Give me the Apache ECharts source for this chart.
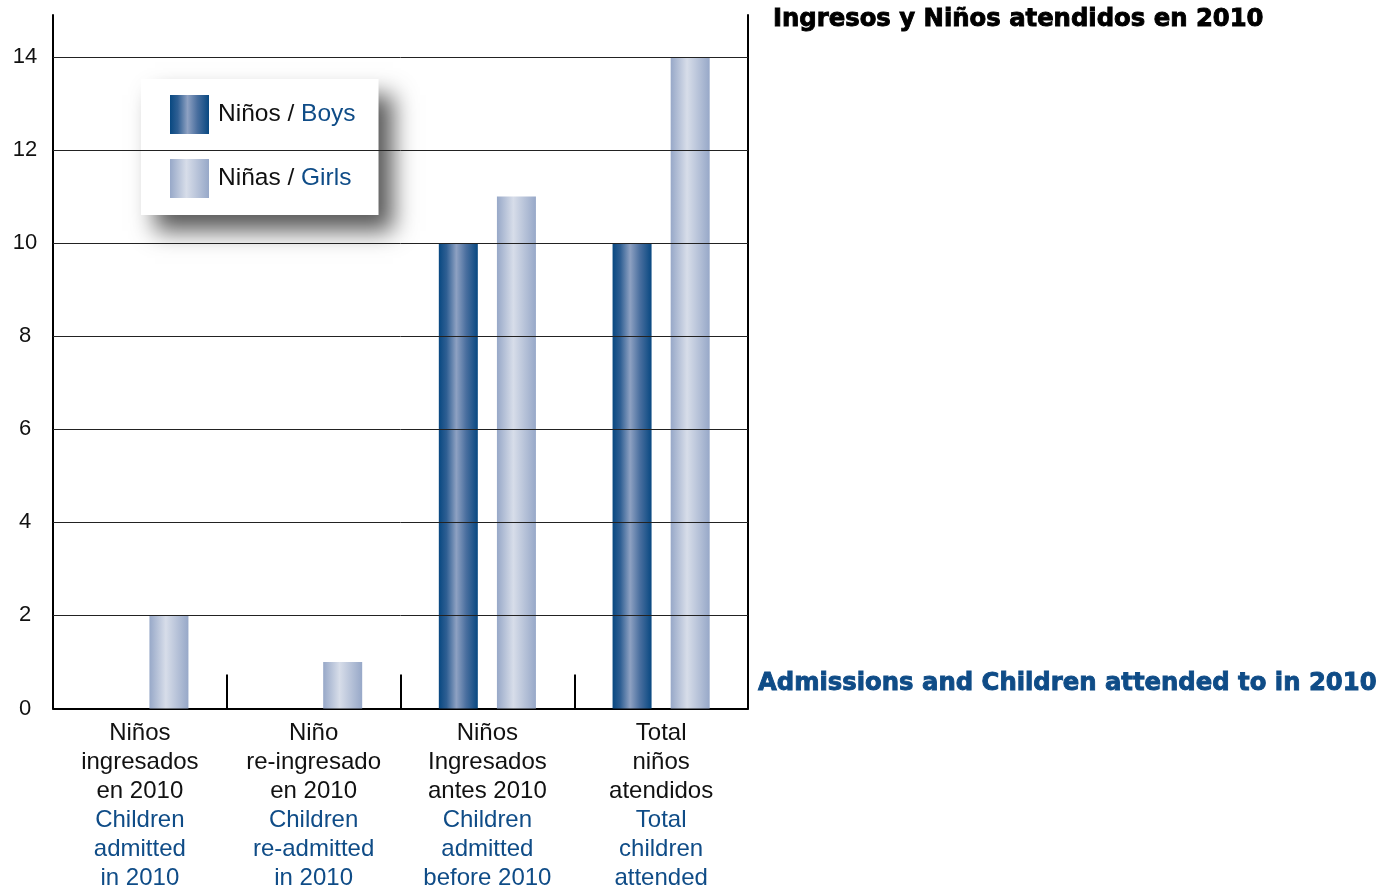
<!DOCTYPE html>
<html>
<head>
<meta charset="utf-8">
<script src="https://cdn.jsdelivr.net/npm/echarts@6/dist/echarts.min.js"></script>
<style>
  html, body { margin: 0; padding: 0; background: #ffffff; }
  #chart { width: 1396px; height: 890px; }
</style>
</head>
<body>
<div id="chart"></div>
<script>
// Category labels: Spanish lines (black) and English lines (blue)
const categoriesEs = [
  ['Niños', 'ingresados', 'en 2010'],
  ['Niño', 're-ingresado', 'en 2010'],
  ['Niños', 'Ingresados', 'antes 2010'],
  ['Total', 'niños', 'atendidos']
];
const categoriesEn = [
  ['Children', 'admitted', 'in 2010'],
  ['Children', 're-admitted', 'in 2010'],
  ['Children', 'admitted', 'before 2010'],
  ['Total', 'children', 'attended']
];
const categoryKeys = ['c0', 'c1', 'c2', 'c3'];

// Series values
const boys = [0, 0, 10, 10];
const girls = [2, 1, 11, 14];

// Legend names
const seriesNames = ['Niños / Boys', 'Niñas / Girls'];

// Value axis ticks and grid lines
const yTicks = [0, 2, 4, 6, 8, 10, 12, 14];
const gridValues = [2, 4, 6, 8, 10, 12, 14];

const BLUE_TEXT = '#0f4c87';
const FONT = '"Liberation Sans", Arial, Helvetica, sans-serif';
const HEAVY = '"DejaVu Sans", sans-serif';

function hGrad(stops) {
  return {
    type: 'linear', x: 0, y: 0, x2: 1, y2: 0,
    colorStops: stops.map(s => ({ offset: s[0], color: s[1] }))
  };
}
const boysColor = hGrad([[0, '#084881'], [0.2, '#2f5f93'], [0.45, '#8ea1c2'], [0.7, '#4a6f9f'], [1, '#084881']]);
const girlsColor = hGrad([[0, '#97a8c8'], [0.42, '#d7dde9'], [1, '#97a8c8']]);

const chart = echarts.init(document.getElementById('chart'), null, { renderer: 'canvas' });

const option = {
  animation: false,
  backgroundColor: '#ffffff',
  textStyle: { fontFamily: FONT },
  title: [
    {
      text: 'Ingresos y Niños atendidos en 2010',
      left: 768, top: 3,
      textStyle: {
        fontFamily: HEAVY, fontWeight: 'bold', fontSize: 24.3, color: '#000000',
        textBorderColor: '#000000', textBorderWidth: 0.9
      }
    },
    {
      text: 'Admissions and Children attended to in 2010',
      left: 753, top: 667,
      textStyle: {
        fontFamily: HEAVY, fontWeight: 'bold', fontSize: 24.3, color: BLUE_TEXT,
        textBorderColor: BLUE_TEXT, textBorderWidth: 0.9
      }
    }
  ],
  legend: {
    orient: 'vertical',
    left: 141, top: 79,
    padding: [16, 23, 17, 29],
    itemWidth: 39, itemHeight: 39, itemGap: 25,
    icon: 'rect',
    backgroundColor: '#ffffff',
    shadowColor: 'rgba(0,0,0,0.65)',
    shadowBlur: 22,
    shadowOffsetX: 14,
    shadowOffsetY: 16,
    data: seriesNames,
    formatter: function (name) {
      const parts = name.split(' / ');
      return '{es|' + parts[0] + ' / }{en|' + parts[1] + '}';
    },
    textStyle: {
      fontFamily: FONT,
      fontSize: 24.5,
      padding: [0, 0, 0, 4],
      rich: {
        es: { fontFamily: FONT, fontSize: 24.5, color: '#111111' },
        en: { fontFamily: FONT, fontSize: 24.5, color: BLUE_TEXT }
      }
    }
  },
  grid: { left: 53, right: 648, top: 15, bottom: 181, containLabel: false },
  xAxis: {
    type: 'category',
    data: categoryKeys,
    boundaryGap: true,
    axisLine: { show: true, lineStyle: { color: '#000000', width: 2 } },
    axisTick: { show: true, inside: true, length: 34, lineStyle: { color: '#000000', width: 2 } },
    axisLabel: {
      margin: 10,
      interval: 0,
      formatter: function (v, i) {
        const es = categoriesEs[i].map(t => '{es|' + t + '}');
        const en = categoriesEn[i].map(t => '{en|' + t + '}');
        return es.concat(en).join('\n');
      },
      rich: {
        es: { fontFamily: FONT, fontSize: 24, lineHeight: 29, color: '#111111', align: 'center' },
        en: { fontFamily: FONT, fontSize: 24, lineHeight: 29, color: BLUE_TEXT, align: 'center' }
      }
    },
    splitLine: { show: false }
  },
  yAxis: [
    {
      type: 'value',
      min: 0, max: 14.9, interval: 2,
      position: 'left',
      axisLine: { show: true, lineStyle: { color: '#000000', width: 2 } },
      axisTick: { show: false },
      splitLine: { show: false },
      axisLabel: {
        margin: 28,
        align: 'center',
        fontFamily: FONT,
        fontSize: 22,
        color: '#111111',
        padding: [0, 0, 4, 0],
        formatter: function (v) { return yTicks.indexOf(v) >= 0 ? String(v) : ''; }
      }
    },
    {
      type: 'value',
      min: 0, max: 14.9, interval: 2,
      position: 'right',
      axisLine: { show: true, lineStyle: { color: '#000000', width: 2 } },
      axisTick: { show: false },
      splitLine: { show: false },
      axisLabel: { show: false }
    }
  ],
  series: [
    {
      name: 'grid',
      type: 'line',
      data: [],
      z: 1,
      silent: true,
      markLine: {
        silent: true,
        symbol: 'none',
        label: { show: false },
        lineStyle: { color: '#222222', width: 1, type: 'solid' },
        data: gridValues.map(v => ({ yAxis: v }))
      }
    },
    {
      name: seriesNames[0],
      type: 'bar',
      z: 3,
      data: boys,
      barWidth: 39,
      barGap: '49%',
      itemStyle: { color: boysColor }
    },
    {
      name: seriesNames[1],
      type: 'bar',
      z: 3,
      data: girls,
      barWidth: 39,
      barGap: '49%',
      itemStyle: { color: girlsColor }
    }
  ]
};

chart.setOption(option);
</script>
</body>
</html>
